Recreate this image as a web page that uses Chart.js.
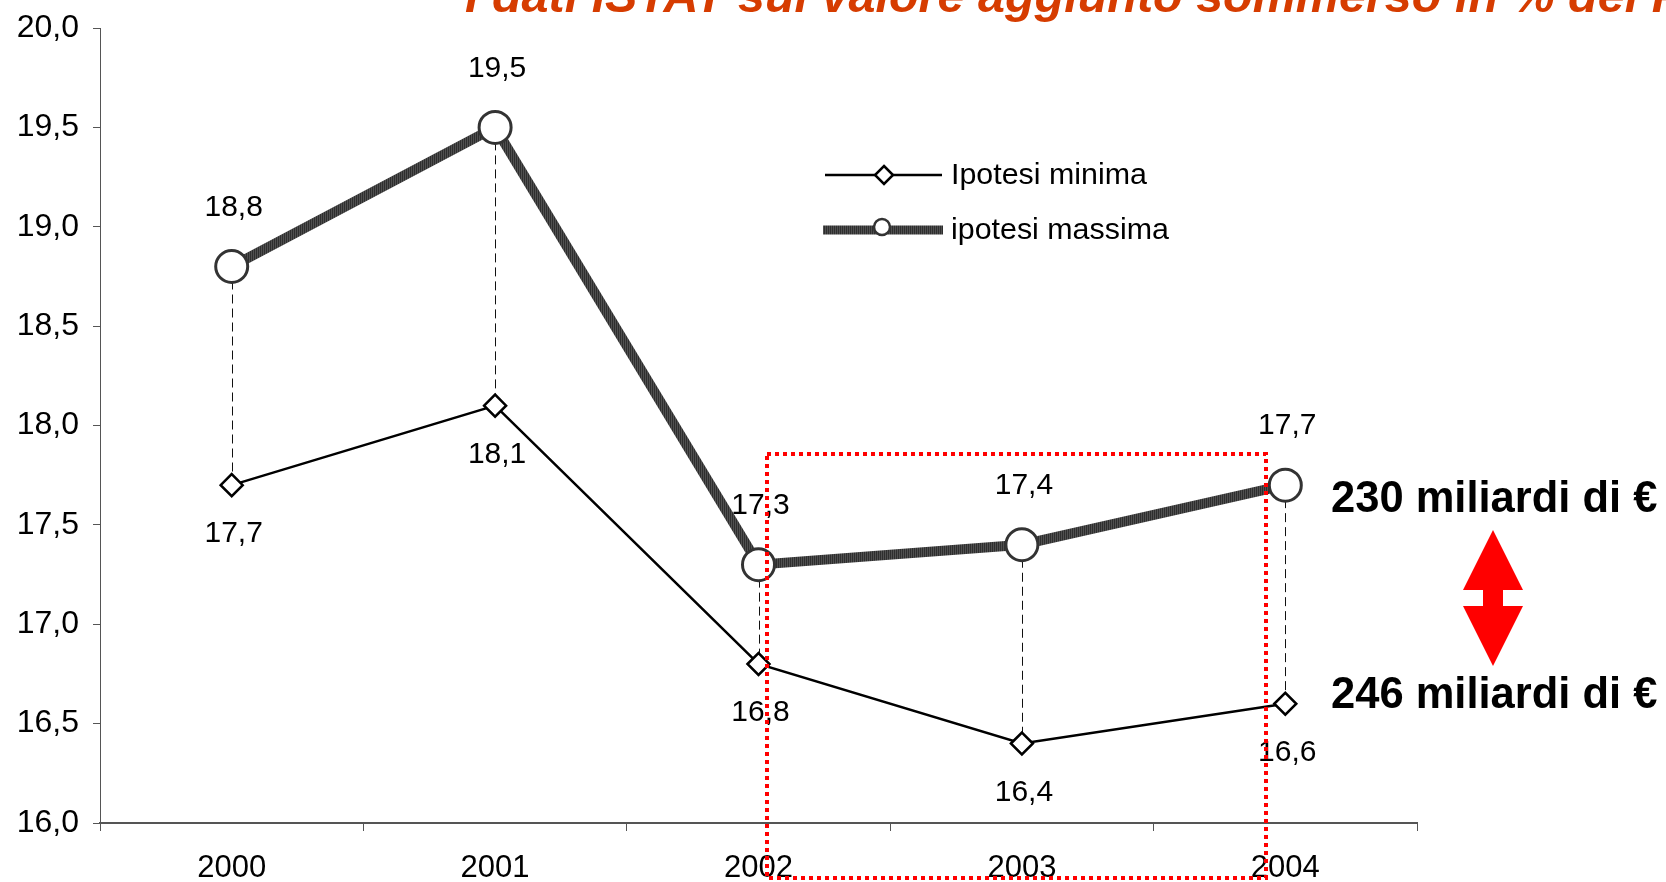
<!DOCTYPE html>
<html><head><meta charset="utf-8">
<style>html,body{margin:0;padding:0;background:#fff;overflow:hidden}#w{position:relative;width:1666px;height:882px}</style>
<script src="https://cdn.jsdelivr.net/npm/chart.js@4"></script></head>
<body><div id="w"><canvas id="c" width="1666" height="882"></canvas></div>
<script>
const categories = ['2000','2001','2002','2003','2004'];
const ipotesiMinima = [17.7,18.1,16.8,16.4,16.6];
const ipotesiMassima = [18.8,19.5,17.3,17.4,17.7];
const seriesNames = ['Ipotesi minima','ipotesi massima'];
const titleText = 'I dati ISTAT sul valore aggiunto sommerso in % del PIL';
const noteTop = '230 miliardi di €';
const noteBottom = '246 miliardi di €';
const FONT = '"Liberation Sans", Arial, sans-serif';
const fmt = v => v.toFixed(1).replace('.', ',');
const DARK = '#333333';

const tile = document.createElement('canvas'); tile.width=2; tile.height=2;
const tc = tile.getContext('2d');
tc.fillStyle='#2e2e2e'; tc.fillRect(0,0,2,2);
tc.fillStyle='#505050'; tc.fillRect(1,0,1,2);
const hatch = document.getElementById('c').getContext('2d').createPattern(tile,'repeat');

const overlays = {
  id:'overlays',
  beforeDatasetsDraw(chart){
    const {ctx, scales:{x,y}} = chart;
    ctx.save();
    ctx.strokeStyle='#111'; ctx.lineWidth=1; ctx.setLineDash([9,5]);
    categories.forEach((c,i)=>{
      const px=Math.round(x.getPixelForValue(i))+.5;
      ctx.beginPath(); ctx.moveTo(px,y.getPixelForValue(ipotesiMassima[i])); ctx.lineTo(px,y.getPixelForValue(ipotesiMinima[i])); ctx.stroke();
    });
    ctx.restore();
  },
  afterDraw(chart){
    const {ctx, scales:{x,y}} = chart;
    ctx.save();
    ctx.fillStyle='#000'; ctx.font='30px '+FONT; ctx.textAlign='center'; ctx.textBaseline='middle';
    categories.forEach((c,i)=>{
      const px=x.getPixelForValue(i);
      ctx.fillText(fmt(ipotesiMassima[i]),px+2,y.getPixelForValue(ipotesiMassima[i])-59);
      ctx.fillText(fmt(ipotesiMinima[i]),px+2,y.getPixelForValue(ipotesiMinima[i])+49);
    });
    ctx.textAlign='left';
    ctx.strokeStyle='#000'; ctx.lineWidth=2.5; ctx.setLineDash([]);
    ctx.beginPath(); ctx.moveTo(825,175); ctx.lineTo(942,175); ctx.stroke();
    ctx.fillStyle='#fff'; ctx.beginPath(); ctx.moveTo(884,166); ctx.lineTo(893,175); ctx.lineTo(884,184); ctx.lineTo(875,175); ctx.closePath(); ctx.fill(); ctx.stroke();
    ctx.strokeStyle=hatch; ctx.lineWidth=9;
    ctx.beginPath(); ctx.moveTo(823,230); ctx.lineTo(943,230); ctx.stroke();
    ctx.strokeStyle=DARK; ctx.lineWidth=2.5; ctx.beginPath(); ctx.arc(882,227,8,0,Math.PI*2); ctx.fill(); ctx.stroke();
    ctx.fillStyle='#000'; ctx.font='30.4px '+FONT;
    ctx.fillText(seriesNames[0],951,176);
    ctx.fillText(seriesNames[1],951,231);
    ctx.strokeStyle='#ff0000'; ctx.lineWidth=4; ctx.setLineDash([4,4]);
    ctx.strokeRect(767,454,499,424);
    ctx.setLineDash([]);
    ctx.fillStyle='#000'; ctx.font='bold 43.5px '+FONT; ctx.textBaseline='alphabetic';
    ctx.fillText(noteTop,1331,512);
    ctx.fillText(noteBottom,1331,708);
    ctx.fillStyle='#ff0000';
    ctx.beginPath();
    ctx.moveTo(1493,530); ctx.lineTo(1523,590); ctx.lineTo(1503,590); ctx.lineTo(1503,606); ctx.lineTo(1523,606);
    ctx.lineTo(1493,666); ctx.lineTo(1463,606); ctx.lineTo(1483,606); ctx.lineTo(1483,590); ctx.lineTo(1463,590);
    ctx.closePath(); ctx.fill();
    ctx.fillStyle='#d63c00'; ctx.font='italic bold 48.5px '+FONT; ctx.textBaseline='alphabetic';
    ctx.fillText(titleText,465,12);
    ctx.restore();
  }
};

new Chart(document.getElementById('c'),{
  type:'line',
  data:{labels:categories,datasets:[
    {label:seriesNames[0],data:ipotesiMinima,borderColor:'#000',borderWidth:2.5,pointStyle:'rectRot',pointRadius:11,pointBorderWidth:2.5,pointBackgroundColor:'#fff',pointBorderColor:'#000',tension:0,order:1},
    {label:seriesNames[1],data:ipotesiMassima,borderColor:hatch,borderWidth:10,pointStyle:'circle',pointRadius:16,pointBorderWidth:3,pointBackgroundColor:'#fff',pointBorderColor:DARK,tension:0,order:0}
  ]},
  plugins:[overlays],
  options:{
    responsive:false,animation:false,
    layout:{padding:{top:28,right:249,left:0,bottom:0}},
    plugins:{legend:{display:false},title:{display:false},tooltip:{enabled:false}},
    scales:{
      x:{offset:true,
        afterFit(s){s.height=59;},
        grid:{offset:true,drawOnChartArea:false,drawTicks:true,tickLength:8,color:'#555'},
        border:{color:'#555',width:2},
        ticks:{color:'#000',font:{family:FONT,size:31},padding:19,maxRotation:0}},
      y:{min:16,max:20,
        afterFit(s){s.width=100;s.paddingTop=0;s.paddingBottom=0;},
        grid:{drawOnChartArea:false,tickLength:7,color:'#555'},
        border:{color:'#555',width:1},
        ticks:{stepSize:.5,color:'#000',font:{family:FONT,size:32},padding:14,callback:v=>fmt(v)}}
    }
  }
});
</script></body></html>
